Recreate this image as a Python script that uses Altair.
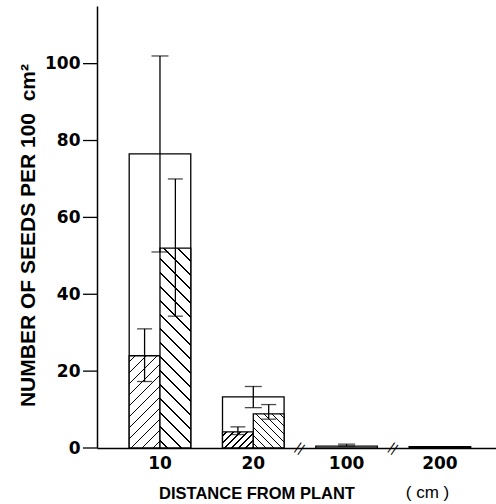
import altair as alt
import pandas as pd

# ---------------- data ----------------
cats = ["10", "20", "100", "200"]
total_mean = [76.5, 13.3, 0.5, 0.35]
total_low = [51.0, 10.5, 0.5, 0.35]
total_high = [102.0, 16.0, 1.0, 0.35]

inner_cat = ["10", "10", "20", "20"]
inner_side = ["a", "b", "a", "b"]
inner_mean = [24.0, 52.0, 4.2, 8.9]
inner_low = [17.3, 34.3, 3.5, 7.5]
inner_high = [31.0, 70.0, 5.5, 11.3]

break_after = ["20", "100"]
y_ticks = [0, 20, 40, 60, 80, 100]

# ---------------- layout / style ----------------
W, H = 399, 442
YMAX = 115
PI, PO, ALIGN = 0.34, 0.308, 0.56
step = W / (len(cats) - PI + 2 * PO)
half_w = step * (1 - PI) / 2
px_per_unit = H / YMAX
TICK = 14

hatch_dir = ["/", "\\", "/", "\\"]
hatch_period = [11.0, 14.0, 7.0, 8.0]


def hatch(w, h, direction, period, lw=1.0):
    k = (w + h) / (w * w + h * h)
    dx, dy = k * w, k * h
    if direction == "/":
        x1, y1, x2, y2 = 0, 0, dx, dy
    else:
        x1, y1, x2, y2 = 0, 1, dx, 1 - dy
    L = w + h
    lw_t = lw * 1.4142
    stops = [{"offset": 0, "color": "white"}]
    pos = period / 2
    while pos < L:
        a = round(pos / L, 5)
        b = round(min((pos + lw_t) / L, 1), 5)
        stops += [
            {"offset": a, "color": "white"},
            {"offset": a, "color": "black"},
            {"offset": b, "color": "black"},
            {"offset": b, "color": "white"},
        ]
        pos += period
    stops.append({"offset": 1, "color": "white"})
    return {"gradient": "linear", "x1": x1, "y1": y1, "x2": x2, "y2": y2, "stops": stops}


outer = pd.DataFrame({"cat": cats, "mean": total_mean, "low": total_low, "high": total_high})
inner = pd.DataFrame({"cat": inner_cat, "side": inner_side, "mean": inner_mean,
                      "low": inner_low, "high": inner_high})
breaks = pd.DataFrame({"cat": break_after})
ticks_df = pd.DataFrame({"v": y_ticks})

xscale = alt.Scale(domain=cats, paddingInner=PI, paddingOuter=PO, align=ALIGN)
yscale = alt.Scale(domain=[0, YMAX], nice=False, zero=True)
oscale = alt.Scale(domain=["a", "b"], paddingInner=0, paddingOuter=0)

xaxis = alt.Axis(
    labelAngle=0, ticks=False, tickSize=0, domainColor="black", domainWidth=1.5,
    labelFont="DejaVu Sans", labelFontWeight="bold", labelFontSize=17, labelColor="black",
    labelPadding=7,
    title="DISTANCE FROM PLANT", titleFont="Liberation Sans", titleFontWeight="bold",
    titleFontSize=16.5, titleColor="black", titleX=159.5, titleY=50,
    titleAlign="center", titleBaseline="alphabetic",
)
yaxis = alt.Axis(
    values=y_ticks, grid=False, domainColor="black", domainWidth=1.5,
    ticks=False,
    labelFont="DejaVu Sans", labelFontWeight="bold", labelFontSize=17, labelColor="black",
    labelPadding=TICK + 3,
    title="NUMBER OF SEEDS PER 100\u00a0\u00a0cm\u00b2", titleFont="Liberation Sans",
    titleFontWeight="bold", titleFontSize=21, titleColor="black", titleAngle=270,
    titleX=-63, titleY=229, titleAlign="center", titleBaseline="alphabetic",
)


def X():
    return alt.X("cat:N", scale=xscale, axis=xaxis, sort=cats)


def Y(field):
    return alt.Y(f"{field}:Q", scale=yscale, axis=yaxis)


def XO():
    return alt.XOffset("side:N", scale=oscale)


layers = []

# y-axis tick marks (drawn through the y scale)
layers.append(
    alt.Chart(ticks_df).mark_rule(color="black", strokeWidth=1.3)
    .encode(x=alt.value(-TICK), x2=alt.value(0), y=Y("v"))
)

# outer (total) bars
layers.append(
    alt.Chart(outer).mark_bar(fill="white", stroke="black", strokeWidth=1.3)
    .encode(x=X(), y=Y("mean"))
)

# inner hatched bars
for i in range(len(inner_cat)):
    h = inner_mean[i] * px_per_unit
    g = hatch(half_w, h, hatch_dir[i], hatch_period[i])
    layers.append(
        alt.Chart(inner.iloc[[i]]).mark_bar(fill=g, stroke="black", strokeWidth=1.3)
        .encode(x=X(), xOffset=XO(), y=Y("mean"))
    )

# outer error bars
outer_err = outer[outer["high"] > outer["mean"]]
layers.append(
    alt.Chart(outer_err).mark_rule(color="black", strokeWidth=1.3)
    .encode(x=X(), y=Y("low"), y2="high:Q")
)
for f in ["low", "high"]:
    layers.append(
        alt.Chart(outer_err).mark_tick(color="black", thickness=1.3, size=17)
        .encode(x=X(), y=Y(f))
    )

# inner error bars
layers.append(
    alt.Chart(inner).mark_rule(color="black", strokeWidth=1.3)
    .encode(x=X(), xOffset=XO(), y=Y("low"), y2="high:Q")
)
for f in ["low", "high"]:
    layers.append(
        alt.Chart(inner).mark_tick(color="black", thickness=1.3, size=15)
        .encode(x=X(), xOffset=XO(), y=Y(f))
    )

# axis break marks
layers.append(
    alt.Chart(breaks).mark_text(text="||", angle=35, font="DejaVu Sans", fontSize=12,
                                color="black", xOffset=step / 2, baseline="middle")
    .encode(x=X(), y=alt.datum(0, scale=yscale, axis=yaxis))
)

# unit label
layers.append(
    alt.Chart(pd.DataFrame({"t": ["( cm )"]})).mark_text(
        font="Liberation Sans", fontSize=17, color="black", baseline="alphabetic", align="center")
    .encode(text="t:N", x=alt.value(330.5), y=alt.value(492))
)

chart = (
    alt.layer(*layers)
    .properties(width=W, height=H, padding={"left": 97, "top": 6, "right": 0, "bottom": 56},
                autosize=alt.AutoSizeParams(type="none"), background="white")
    .configure_view(strokeWidth=0)
)

chart.save("out.html", embed_options={"renderer": "svg", "actions": False})
